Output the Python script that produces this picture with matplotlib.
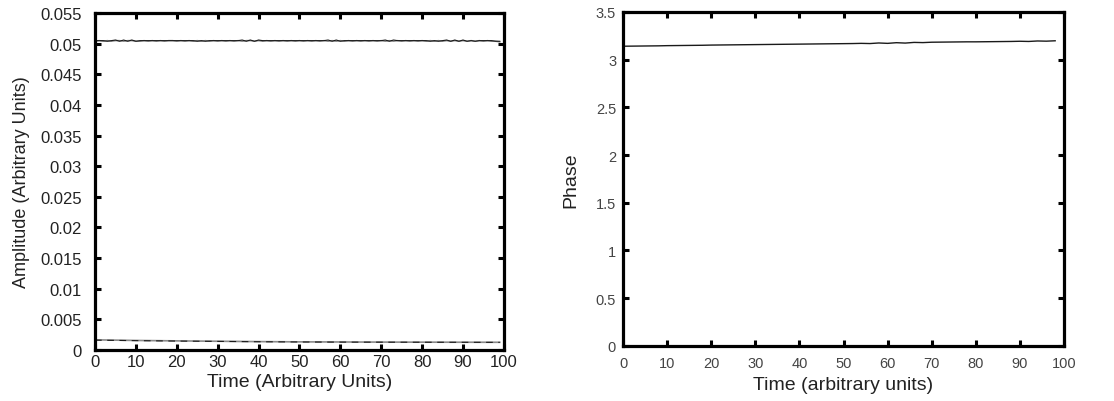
import numpy as np
import matplotlib
matplotlib.use("Agg")
import matplotlib.pyplot as plt

plt.rcParams['font.family'] = ['Liberation Sans', 'DejaVu Sans']

# time samples (arbitrary units)
time = list(range(0, 100))

# amplitude, upper mode (black and gray traces overlap)
amp_upper_black = [
    0.0505, 0.0505, 0.0505, 0.0504, 0.0505, 0.0506, 0.0504, 0.0506, 0.0504, 0.0506,
    0.0504, 0.0505, 0.0505, 0.0505, 0.0505, 0.0505, 0.0505, 0.0505, 0.0505, 0.0505,
    0.0505, 0.0505, 0.0505, 0.0505, 0.0505, 0.0504, 0.0505, 0.0504, 0.0505, 0.0505,
    0.0505, 0.0505, 0.0505, 0.0505, 0.0505, 0.0505, 0.0506, 0.0504, 0.0506, 0.0504,
    0.0506, 0.0505, 0.0505, 0.0505, 0.0505, 0.0505, 0.0505, 0.0505, 0.0505, 0.0505,
    0.0505, 0.0505, 0.0505, 0.0505, 0.0505, 0.0505, 0.0505, 0.0506, 0.0504, 0.0506,
    0.0504, 0.0505, 0.0505, 0.0505, 0.0505, 0.0505, 0.0505, 0.0505, 0.0505, 0.0505,
    0.0505, 0.0506, 0.0504, 0.0506, 0.0505, 0.0505, 0.0505, 0.0505, 0.0505, 0.0505,
    0.0505, 0.0505, 0.0504, 0.0505, 0.0504, 0.0505, 0.0506, 0.0504, 0.0506, 0.0504,
    0.0506, 0.0504, 0.0505, 0.0504, 0.0505, 0.0505, 0.0505, 0.0505, 0.0504, 0.0504,
]
amp_upper_gray = [
    0.0504, 0.0505, 0.0504, 0.0505, 0.0504, 0.0505, 0.0505, 0.0504, 0.0505, 0.0505,
    0.0504, 0.0504, 0.0505, 0.0504, 0.0505, 0.0504, 0.0505, 0.0504, 0.0505, 0.0505,
    0.0504, 0.0505, 0.0504, 0.0505, 0.0504, 0.0505, 0.0504, 0.0505, 0.0504, 0.0505,
    0.0504, 0.0505, 0.0504, 0.0505, 0.0504, 0.0505, 0.0504, 0.0505, 0.0505, 0.0504,
    0.0505, 0.0504, 0.0505, 0.0504, 0.0505, 0.0504, 0.0505, 0.0504, 0.0505, 0.0504,
    0.0505, 0.0504, 0.0505, 0.0504, 0.0505, 0.0504, 0.0505, 0.0504, 0.0505, 0.0504,
    0.0505, 0.0504, 0.0505, 0.0504, 0.0505, 0.0504, 0.0505, 0.0504, 0.0505, 0.0504,
    0.0505, 0.0504, 0.0505, 0.0504, 0.0505, 0.0504, 0.0505, 0.0504, 0.0505, 0.0504,
    0.0505, 0.0504, 0.0505, 0.0504, 0.0505, 0.0504, 0.0505, 0.0504, 0.0505, 0.0504,
    0.0505, 0.0504, 0.0505, 0.0504, 0.0505, 0.0504, 0.0505, 0.0504, 0.0504, 0.0503,
]

# amplitude, lower mode (sampled every 10 units)
time_lower = [0, 10, 20, 30, 40, 50, 60, 70, 80, 90, 99]
amp_lower_gray = [0.00165, 0.00155, 0.00148, 0.00142, 0.00136, 0.00132, 0.00130,
                  0.00128, 0.00127, 0.00126, 0.00125]
amp_lower_black = [0.00160, 0.00152, 0.00145, 0.00140, 0.00134, 0.00130, 0.00128,
                   0.00127, 0.00126, 0.00125, 0.00124]

# phase (sampled every 2 units up to 98)
time_phase = list(range(0, 100, 2))
phase = [
    3.140, 3.141, 3.142, 3.143, 3.144, 3.146, 3.147, 3.148, 3.149, 3.150,
    3.152, 3.153, 3.154, 3.155, 3.156, 3.157, 3.158, 3.159, 3.160, 3.161,
    3.162, 3.163, 3.164, 3.165, 3.166, 3.167, 3.168, 3.170, 3.168, 3.174,
    3.170, 3.177, 3.173, 3.180, 3.178, 3.182, 3.183, 3.184, 3.185, 3.186,
    3.186, 3.187, 3.188, 3.189, 3.190, 3.192, 3.190, 3.195, 3.193, 3.197,
]

amp_ticks = [0, 0.005, 0.01, 0.015, 0.02, 0.025, 0.03, 0.035, 0.04, 0.045, 0.05, 0.055]
amp_ticklabels = ['0', '0.005', '0.01', '0.015', '0.02', '0.025', '0.03', '0.035',
                  '0.04', '0.045', '0.05', '0.055']
phase_ticks = [0, 0.5, 1, 1.5, 2, 2.5, 3, 3.5]
phase_ticklabels = ['0', '0.5', '1', '1.5', '2', '2.5', '3', '3.5']
time_ticks = list(range(0, 101, 10))

NARROW = ['Liberation Sans Narrow', 'Liberation Sans', 'DejaVu Sans']


def style_axes(ax, xpad, ypad):
    for sp in ax.spines.values():
        sp.set_linewidth(2.3)
    ax.tick_params(direction='in', top=True, right=True, length=4, width=2.2)
    ax.tick_params(axis='x', pad=xpad)
    ax.tick_params(axis='y', pad=ypad)
    ax.set_xlim(0, 100)
    ax.set_xticks(time_ticks)


fig = plt.figure(figsize=(11.14, 4.02), dpi=100)

# left: amplitude
ax1 = fig.add_axes([0.0853, 0.127, 0.367, 0.838])
ax1.plot(time, amp_upper_gray, color='#8a8a8a', lw=1.1)
ax1.plot(time, amp_upper_black, color='#1a1a1a', lw=0.8)
ax1.plot(time_lower, amp_lower_gray, color='#8a8a8a', lw=1.2)
ax1.plot(time_lower, amp_lower_black, color='#1a1a1a', lw=0.8, dashes=(6, 5))
ax1.set_ylim(0, 0.055)
ax1.set_yticks(amp_ticks)
ax1.set_xticks(time_ticks)
style_axes(ax1, 3, 9.5)
ax1.set_yticklabels(amp_ticklabels, family=NARROW, fontsize=12, color='#222222')
ax1.set_xticklabels([str(t) for t in time_ticks], family=NARROW, fontsize=12,
                    color='#222222')
ax1.set_xlabel('Time (Arbitrary Units)', fontsize=14, color='#222222', labelpad=3)
ax1.set_ylabel('Amplitude (Arbitrary Units)', fontsize=13, color='#222222', labelpad=7)

# right: phase
ax2 = fig.add_axes([0.5593, 0.137, 0.3958, 0.831])
ax2.plot(time_phase, phase, color='#1a1a1a', lw=1.0)
ax2.set_ylim(0, 3.5)
ax2.set_yticks(phase_ticks)
style_axes(ax2, 7.5, 5)
ax2.set_yticklabels(phase_ticklabels, fontsize=10.5, color='#444444')
ax2.set_xticklabels([str(t) for t in time_ticks], fontsize=10.5, color='#444444')
ax2.set_xlabel('Time (arbitrary units)', fontsize=14, color='#222222', labelpad=4)
ax2.set_ylabel('Phase', fontsize=14, color='#222222', labelpad=12)

fig.savefig('out.png', dpi=100)
